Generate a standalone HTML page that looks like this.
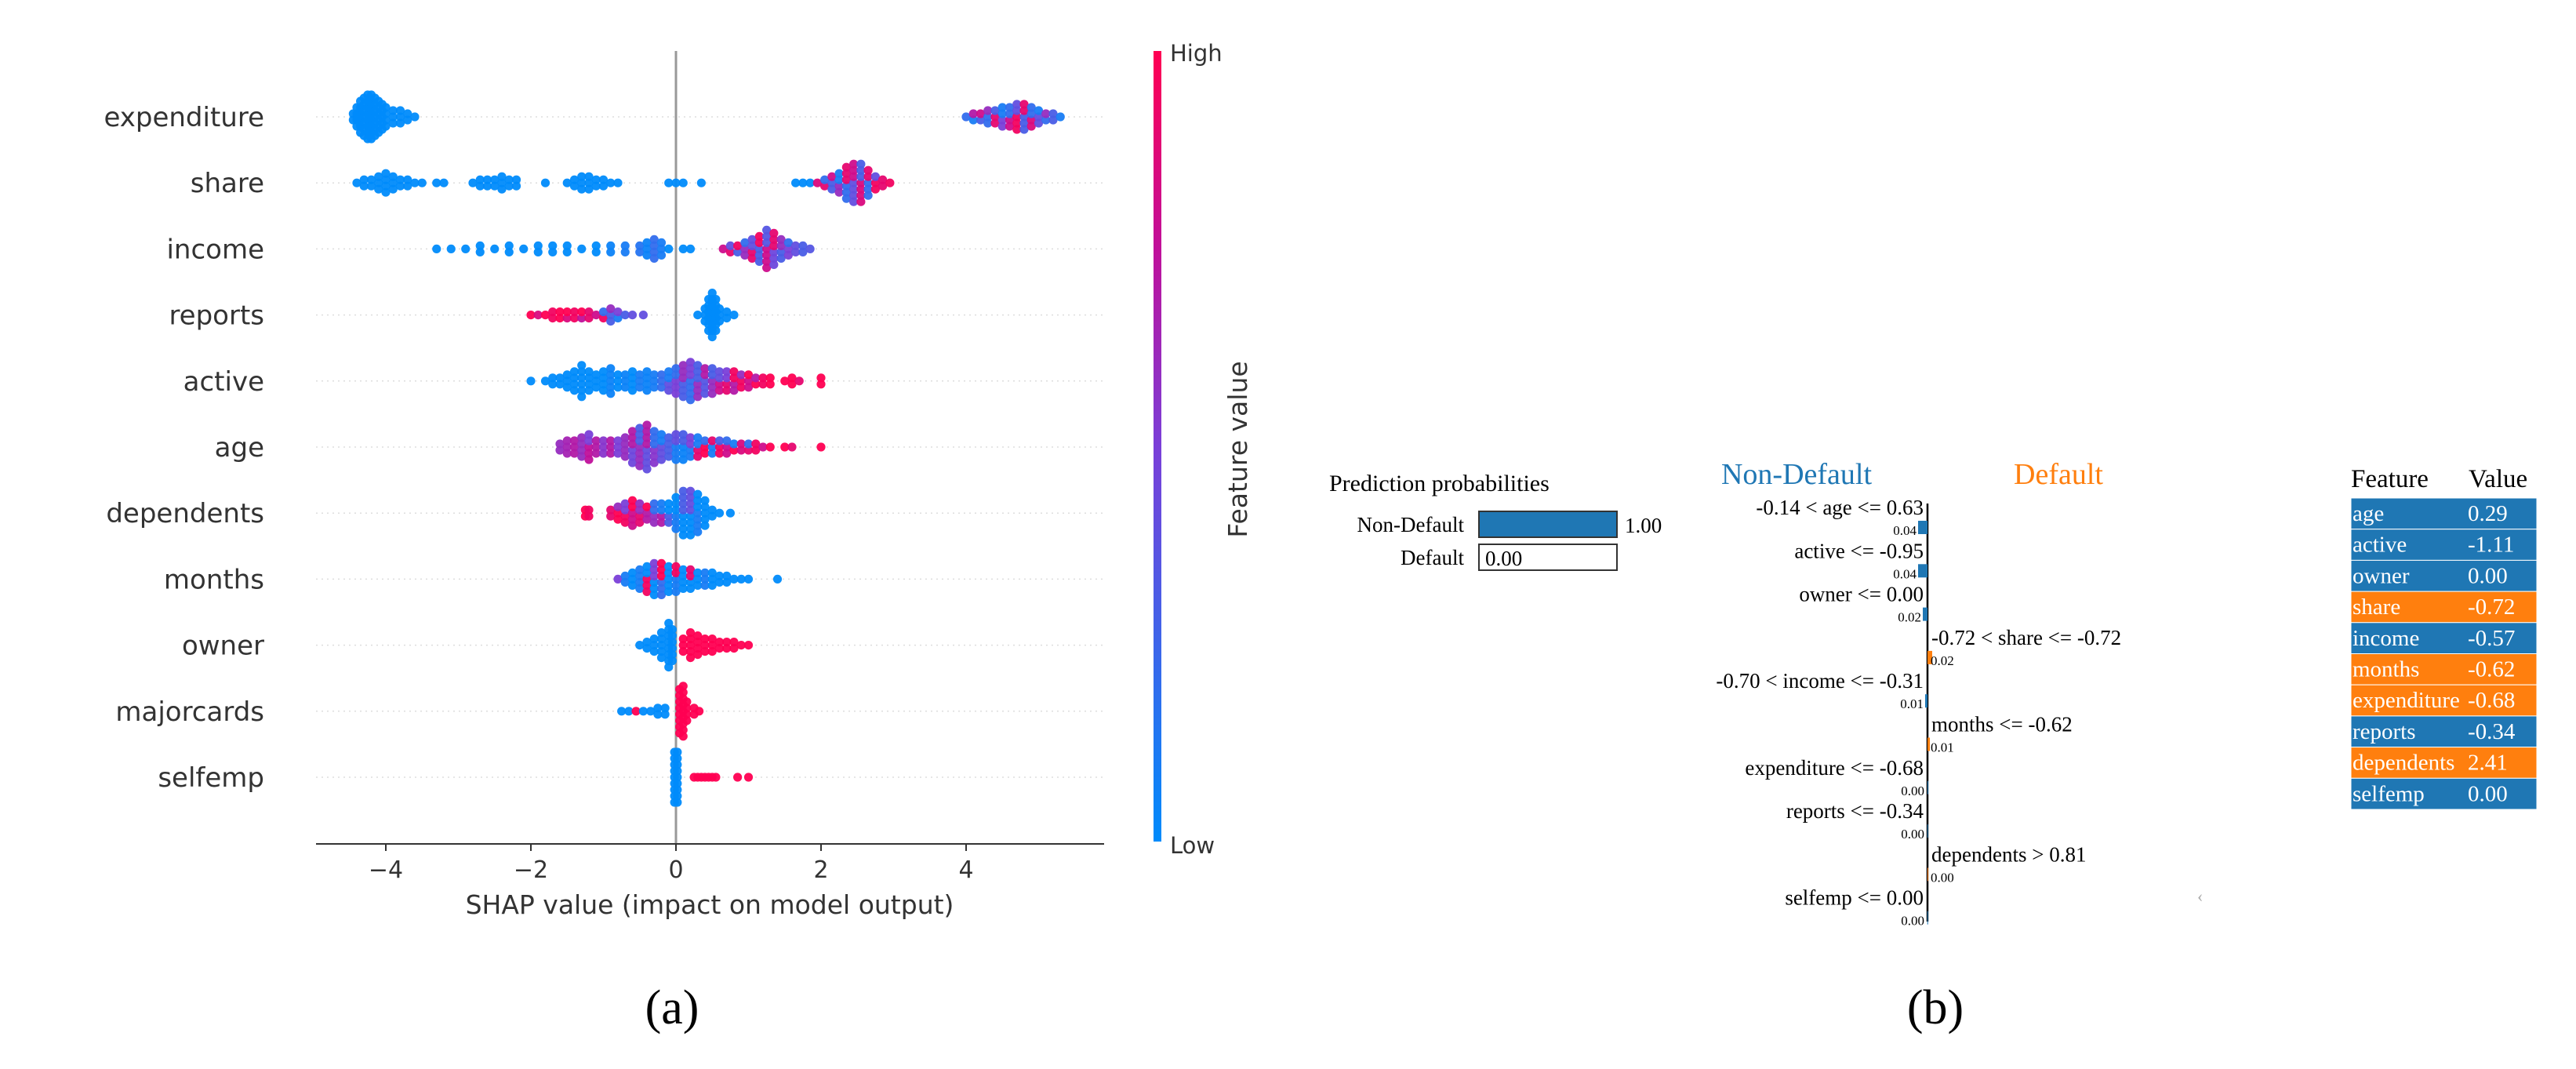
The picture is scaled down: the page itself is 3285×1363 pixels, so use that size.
<!DOCTYPE html>
<html><head><meta charset="utf-8"><style>
html,body{margin:0;padding:0;background:#fff;}
svg{display:block;}
.lbl{font-family:"DejaVu Sans","Liberation Sans",sans-serif;fill:#333;}
.ser{font-family:"Liberation Serif",serif;}
</style></head><body>
<svg id="chart" width="3285" height="1363" viewBox="0 0 3285 1363" xmlns="http://www.w3.org/2000/svg">
<rect width="3285" height="1363" fill="#fff"/>
<defs><linearGradient id="cb" x1="0" y1="1" x2="0" y2="0">
<stop offset="0" stop-color="#008bfb"/><stop offset="0.5" stop-color="#7a3fd8"/><stop offset="0.75" stop-color="#c0109a"/><stop offset="1" stop-color="#ff0052"/></linearGradient></defs>
<g id="shap"></g>
<g id="lime"></g>
</svg>
<script>
const features = ["expenditure","share","income","reports","active","age","dependents","months","owner","majorcards","selfemp"];
const xTicks = [-4,-2,0,2,4];
// bins: [shap value, count, feature color (0 low .. 1 high), alternate color]
const expenditureBins = [[-4.45,2,0],[-4.4,4,0],[-4.35,6,0],[-4.3,7,0],[-4.25,8,0],[-4.2,8,0],[-4.15,7,0],[-4.1,6,0],[-4.05,5,0],[-4.0,4,0],[-3.9,3,0],[-3.8,3,0],[-3.7,2,0],[-3.6,1,0],
 [4.0,1,0.2],[4.1,2,0.1,0.7],[4.2,2,0.3,0.8],[4.3,3,0.2,0.6],[4.4,3,0.9,0.3],[4.5,4,0.5,0.1],[4.6,4,0.8,0.2],[4.7,5,0.95,0.4],[4.8,5,0.3,0.9],[4.9,4,0.85,0.2],[5.0,3,0.4,0.1],[5.1,2,0.2,0.6],[5.2,2,0.3],[5.3,1,0.1]];
const shareBins = [[-4.4,1,0],[-4.3,2,0],[-4.2,2,0],[-4.1,3,0],[-4.0,4,0],[-3.9,3,0],[-3.8,2,0],[-3.7,2,0],[-3.6,1,0],[-3.5,1,0],[-3.3,1,0],[-3.2,1,0],
 [-2.8,1,0],[-2.7,2,0],[-2.6,2,0],[-2.5,2,0],[-2.4,3,0],[-2.3,2,0],[-2.2,2,0],[-1.8,1,0],
 [-1.5,1,0],[-1.4,2,0],[-1.3,3,0],[-1.2,3,0],[-1.1,2,0],[-1.0,2,0],[-0.9,1,0],[-0.8,1,0],[-0.1,1,0],[0.0,1,0],[0.1,1,0],[0.35,1,0],
 [1.65,1,0],[1.75,1,0],[1.85,1,0],[1.95,1,0.85],[2.05,2,0.9,0.2],[2.15,3,0.3,0.8],[2.25,4,0.6,0.1],[2.35,6,0.2,0.9],[2.45,7,0.4,0.8],[2.55,7,0.85,0.3],[2.65,5,0.2,0.9],[2.75,3,0.95,0.4],[2.85,2,0.9],[2.95,1,0.95]];
const incomeBins = [[-3.3,1,0],[-3.1,1,0],[-2.9,1,0],[-2.7,2,0],[-2.5,1,0],[-2.3,2,0],[-2.1,1,0],[-1.9,2,0],[-1.7,2,0],[-1.5,2,0],[-1.3,1,0],[-1.1,2,0],[-0.9,2,0.05],[-0.7,2,0.1],[-0.5,2,0.15],[-0.4,3,0.05],[-0.3,4,0.2],[-0.2,3,0.1],[-0.1,1,0],[0.1,1,0],[0.2,1,0],
 [0.65,1,0.8],[0.75,2,0.9,0.4],[0.85,2,0.3,0.95],[0.95,3,0.6,0.2],[1.05,4,0.9,0.4],[1.15,5,0.3,0.95],[1.25,7,0.8,0.35],[1.35,6,0.45,0.9],[1.45,4,0.3,0.6],[1.55,3,0.5,0.2],[1.65,2,0.4],[1.75,2,0.3],[1.85,1,0.35]];
const reportsBins = [[-2.0,1,1],[-1.9,1,0.85],[-1.8,1,1],[-1.7,2,0.95],[-1.6,2,1],[-1.5,2,0.85,1],[-1.4,2,0.95],[-1.3,2,0.75,1],[-1.2,2,0.9],[-1.1,1,0.8],[-1.0,2,0.95,0.2],[-0.9,3,0.3,0.6],[-0.8,2,0.1,0.5],[-0.7,1,0.3],[-0.6,1,0.4],[-0.45,1,0.4],
 [0.3,1,0],[0.4,3,0],[0.45,6,0],[0.5,8,0],[0.55,6,0],[0.6,3,0],[0.7,2,0],[0.8,1,0]];
const activeBins = [[-2.0,1,0],[-1.8,1,0],[-1.7,2,0],[-1.6,2,0],[-1.5,3,0],[-1.4,4,0],[-1.3,6,0],[-1.2,4,0],[-1.1,3,0],[-1.0,4,0],[-0.9,5,0.05],[-0.8,3,0],[-0.7,3,0.05],[-0.6,4,0],[-0.5,3,0.1],[-0.4,4,0.05],[-0.3,3,0.1],[-0.2,3,0.2],[-0.1,4,0.4,0.1],
 [0.0,5,0.5,0.2],[0.1,6,0.3,0.6],[0.2,7,0.2,0.5],[0.3,6,0.6,0.3],[0.4,5,0.35,0.7],[0.5,5,0.6,0.3],[0.6,4,0.8,0.4],[0.7,4,0.9,0.5],[0.8,4,0.7,0.95],[0.9,3,0.95,0.6],[1.0,3,0.8,1],[1.1,2,1,0.7],[1.2,2,0.95],[1.3,2,1],[1.5,1,1],[1.6,2,1],[1.7,1,0.9],[2.0,2,1]];
const ageBins = [[-1.6,2,0.6],[-1.5,3,0.65],[-1.4,3,0.7],[-1.3,4,0.6],[-1.2,5,0.75,0.5],[-1.1,3,0.7],[-1.0,3,0.55],[-0.9,3,0.7],[-0.8,3,0.5],[-0.7,4,0.6],[-0.6,6,0.45,0.7],[-0.5,7,0.6,0.3],[-0.4,8,0.4,0.7],[-0.3,6,0.55,0.2],[-0.2,5,0.4,0.1],[-0.1,4,0.3],
 [0.0,5,0.1,0.4],[0.1,5,0.05,0.3],[0.2,4,0.1,0.5],[0.3,4,0.9,0.1],[0.4,3,1,0.2],[0.5,3,0.1,0.9],[0.6,3,0.95,0.3],[0.7,3,0.8,0.2],[0.8,2,1,0.1],[0.9,2,0.85],[1.0,2,0.9,0.2],[1.1,2,0.95],[1.2,1,0.8],[1.3,1,1],[1.5,1,1],[1.6,1,0.9],[2.0,1,1]];
const dependentsBins = [[-1.25,2,1],[-1.2,2,0.95],[-0.9,2,0.9],[-0.8,3,1,0.6],[-0.7,4,0.95,0.5],[-0.6,5,0.8,1],[-0.5,4,0.9,0.6],[-0.4,3,0.7,1],[-0.3,4,0.6,0.2],[-0.2,4,0.7,0.1],[-0.1,4,0.3,0.0],
 [0.0,6,0.1,0.0],[0.1,8,0.0,0.3],[0.2,8,0.0,0.4],[0.3,7,0.1,0.0],[0.4,5,0.0],[0.5,2,0.0],[0.6,1,0.0],[0.75,1,0.0]];
const monthsBins = [[-0.8,1,0.5],[-0.7,2,0.1],[-0.6,3,0.0],[-0.5,4,0.1],[-0.4,5,0.95,0.0],[-0.3,6,0.0,0.5],[-0.2,6,0.2,1],[-0.1,5,0.0],[0.0,5,0.1,0.95],[0.1,4,0.0],[0.2,4,0.0,0.9],[0.3,3,0.0],[0.4,3,0.1],[0.5,3,0.0],[0.6,2,0.0],[0.7,2,0.0],[0.8,1,0.0],[0.9,1,0.0],[1.0,1,0.0],[1.4,1,0.0]];
const ownerBins = [[-0.5,1,0],[-0.4,2,0],[-0.3,3,0],[-0.2,5,0],[-0.1,8,0],[-0.05,6,0],
 [0.1,3,1],[0.2,5,1],[0.3,4,1],[0.4,3,1],[0.5,3,1],[0.6,2,1],[0.7,2,1],[0.8,2,1],[0.9,1,1],[1.0,1,1]];
const majorcardsBins = [[-0.75,1,0],[-0.65,1,0],[-0.55,1,1],[-0.45,1,0],[-0.35,1,0],[-0.25,2,0],[-0.15,2,0],
 [0.05,8,1],[0.1,9,1],[0.15,4,1],[0.25,2,1],[0.32,1,1]];
const selfempBins = [[-0.02,9,0],[0.02,9,0],[0.25,1,1],[0.3,1,1],[0.35,1,1],[0.4,1,1],[0.45,1,1],[0.5,1,1],[0.55,1,1],[0.85,1,1],[1.0,1,1]];
const allBins = [expenditureBins,shareBins,incomeBins,reportsBins,activeBins,ageBins,dependentsBins,monthsBins,ownerBins,majorcardsBins,selfempBins];

// LIME data
const classNames = ["Non-Default","Default"];
const classProbs = [1.00, 0.00];
const limeRules = ["-0.14 < age <= 0.63","active <= -0.95","owner <= 0.00","-0.72 < share <= -0.72","-0.70 < income <= -0.31","months <= -0.62","expenditure <= -0.68","reports <= -0.34","dependents > 0.81","selfemp <= 0.00"];
const limeWeights = [-0.04,-0.04,-0.02,0.02,-0.01,0.01,0.00,-0.001,0.001,-0.001];
const limeLabels = ["0.04","0.04","0.02","0.02","0.01","0.01","0.00","0.00","0.00","0.00"];
const tableFeatures = ["age","active","owner","share","income","months","expenditure","reports","dependents","selfemp"];
const tableValues = ["0.29","-1.11","0.00","-0.72","-0.57","-0.62","-0.68","-0.34","2.41","0.00"];
const tableClass = [0,0,0,1,0,1,1,0,1,0];

const NS="http://www.w3.org/2000/svg";
function mk(tag,attrs,parent,txt){const e=document.createElementNS(NS,tag);for(const k in attrs)e.setAttribute(k,attrs[k]);if(txt!==undefined)e.textContent=txt;parent.appendChild(e);return e;}
function cmap(t){const stops=[[0,[0,139,251]],[0.5,[122,63,216]],[0.75,[192,16,154]],[1,[255,0,82]]];
 for(let i=1;i<stops.length;i++){if(t<=stops[i][0]){const a=stops[i-1],b=stops[i];const f=(t-a[0])/(b[0]-a[0]);
 return "rgb("+a[1].map((v,j)=>Math.round(v+(b[1][j]-v)*f)).join(",")+")";}}return "rgb(255,0,82)";}

// SHAP panel
const g=document.getElementById('shap');
const X0=862, XU=92.5, Y0=149, YS=84.2, AX0=403, AX1=1408, AXY=1076;
const xs=v=>X0+v*XU, ys=i=>Y0+i*YS;
features.forEach((f,i)=>{
 const gl=mk('line',{x1:AX0,x2:AX1,y1:ys(i),y2:ys(i),stroke:'#ddd','stroke-width':1.5,'stroke-dasharray':'2 5'},g);
 
 
 const t=mk('text',{x:337,y:ys(i)+12,'text-anchor':'end','font-size':34,class:'lbl'},g,f);
 
 
});
const zl=mk('line',{x1:X0,x2:X0,y1:65,y2:AXY,stroke:'#999','stroke-width':3},g);


const dots=mk('g',{},g);


allBins.forEach((bins,i)=>{
 bins.forEach(b=>{
  const [v,n,c,c2]=b;
  for(let k=0;k<n;k++){
   const off=(k%2===0?1:-1)*Math.ceil(k/2)*8;
   const col=(c2!==undefined&&k%2===1)?c2:c;
   const cy=ys(i)+off+(n%2===0?4:0);
   const d=mk('circle',{cx:xs(v),cy:cy,r:5.6,fill:cmap(col),'fill-opacity':0.95},dots);
   
   
  }
 });
});
const ax=mk('line',{x1:AX0,x2:AX1,y1:AXY,y2:AXY,stroke:'#333','stroke-width':2},g);


xTicks.forEach(t=>{
 const tk=mk('line',{x1:xs(t),x2:xs(t),y1:AXY,y2:AXY+9,stroke:'#333','stroke-width':2},g);
 
 
 const tl=mk('text',{x:xs(t),y:1119,'text-anchor':'middle','font-size':30,class:'lbl'},g,t<0?'\u2212'+(-t):String(t));
 
 
});
const xt=mk('text',{x:905,y:1165,'text-anchor':'middle','font-size':33,class:'lbl'},g,'SHAP value (impact on model output)');


const cb=mk('rect',{x:1471,y:65,width:10,height:1008,fill:'url(#cb)'},g);


const hi=mk('text',{x:1492,y:78,'font-size':29,class:'lbl'},g,'High');


const lo=mk('text',{x:1492,y:1088,'font-size':29,class:'lbl'},g,'Low');


const fv=mk('text',{x:1590,y:573,'text-anchor':'middle','font-size':33,class:'lbl',transform:'rotate(-90 1590 573)'},g,'Feature value');


const ca=mk('text',{x:857,y:1305,'text-anchor':'middle','font-size':62,class:'ser',fill:'#000'},g,'(a)');



// LIME panel
const L=document.getElementById('lime');
function T(x,y,s,txt,name,extra){const e=mk('text',Object.assign({x:x,y:y,'font-size':s,class:'ser',fill:'#000'},extra||{}),L,txt);return e;}
T(1695,626,30,'Prediction probabilities','prediction-probabilities-title');
const PX=1886, PW=176;
classNames.forEach((c,i)=>{
 const y=i===0?652:694;
 T(1867,y+26,27,c,'class-label-'+c.toLowerCase(),{'text-anchor':'end'});
 const fr=mk('rect',{x:PX,y:y,width:PW,height:33,fill:'#fff',stroke:'#333','stroke-width':2},L);
 
 
 const br=mk('rect',{x:PX,y:y,width:PW*classProbs[i],height:33,fill:'#1f77b4',stroke:'#333','stroke-width':2},L);
 
 
 const val=classProbs[i].toFixed(2);
 if(classProbs[i]>0.5) T(PX+PW+10,y+27,27,val,'prob-value-'+c.toLowerCase());
 else T(PX+8,y+27,27,val,'prob-value-'+c.toLowerCase());
});
T(2291,617,38,'Non-Default','lime-header-non-default',{'text-anchor':'middle',fill:'#1f77b4'});
T(2625,617,38,'Default','lime-header-default',{'text-anchor':'middle',fill:'#ff7f0e'});
const CX=2458, WS=300;
const al=mk('line',{x1:CX,x2:CX,y1:642,y2:1175,stroke:'#000','stroke-width':2.5},L);


limeRules.forEach((r,i)=>{
 const y=656+i*55.3, w=limeWeights[i];
 const right=w>0;
 T(right?CX+5:CX-5,y,27,r,'lime-rule-'+i,{'text-anchor':right?'start':'end'});
 const bw=Math.abs(w)*WS;
 const b=mk('rect',{x:right?CX:CX-bw,y:y+8,width:Math.max(bw,1),height:17,fill:right?'#ff7f0e':'#1f77b4'},L);
 
 
 T(right?CX+4:CX-(bw>2?bw+2:4),y+26,17,limeLabels[i],'lime-weight-'+i,{'text-anchor':right?'start':'end'});
});
T(2802,1150,22,'\u2039','scroll-indicator',{fill:'#aaa'});
T(2998,621,33,'Feature','table-header-feature');
T(3148,621,33,'Value','table-header-value');
tableFeatures.forEach((f,i)=>{
 const y=635+i*39.7;
 const r=mk('rect',{x:2998,y:y,width:237,height:39.7,fill:tableClass[i]?'#ff7f0e':'#1f77b4',stroke:'#fff','stroke-width':1},L);
 
 
 T(3000,y+29,29,f,'table-feature-'+f,{fill:'#fff'});
 T(3147,y+29,29,tableValues[i],'table-value-'+f,{fill:'#fff'});
});
T(2468,1305,62,'(b)','caption-b',{'text-anchor':'middle'});
</script>
</body></html>
